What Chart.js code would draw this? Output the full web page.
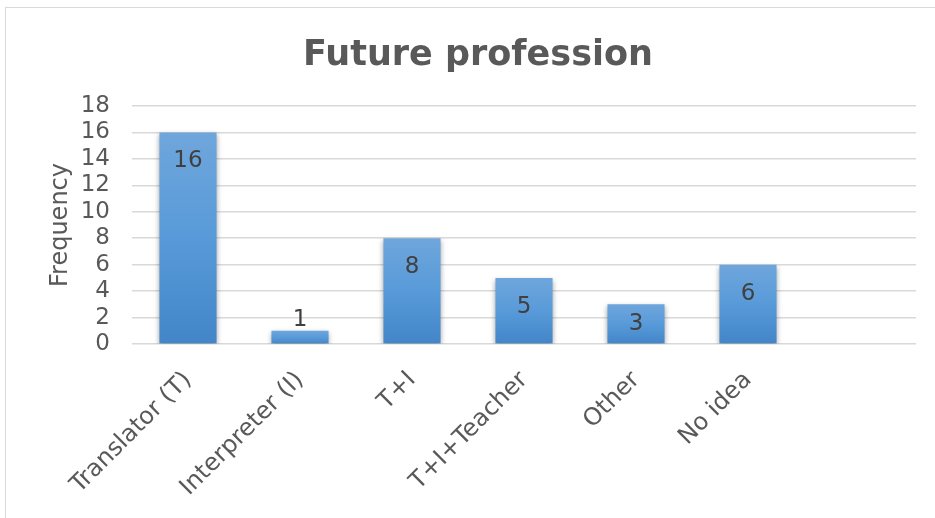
<!DOCTYPE html>
<html>
<head>
<meta charset="utf-8">
<script src="https://cdn.jsdelivr.net/npm/chart.js@4/dist/chart.umd.min.js"></script>
<style>
  html, body { margin: 0; padding: 0; background: #ffffff; }
  #wrap { width: 935px; height: 518px; position: relative; }
</style>
</head>
<body>
<div id="wrap"><canvas id="c" width="935" height="518"></canvas></div>
<script>
const chartTitle = "Future profession";
const yAxisTitle = "Frequency";
const categories = ["Translator (T)", "Interpreter (I)", "T+I", "T+I+Teacher", "Other", "No idea", ""];
const frequency = [16, 1, 8, 5, 3, 6, null];
const yTickStep = 2;

const FONT = "'DejaVu Sans', Verdana, sans-serif";
const TEXT = "#595959";

const framePlugin = {
  id: "frame",
  beforeDraw(chart) {
    const c = chart.ctx;
    c.save();
    c.fillStyle = "#ffffff";
    c.fillRect(0, 0, chart.width, chart.height);
    c.strokeStyle = "#d9d9d9";
    c.lineWidth = 1;
    c.strokeRect(5.5, 7.5, 960, 560);
    c.fillStyle = TEXT;
    c.font = "bold 35px " + FONT;
    c.textAlign = "center";
    c.textBaseline = "alphabetic";
    c.fillText(chartTitle, 478, 65);
    c.restore();
  }
};

const shadowPlugin = {
  id: "barShadow",
  beforeDatasetsDraw(chart) {
    const c = chart.ctx;
    c.save();
    c.shadowColor = "rgba(0,0,0,0.35)";
    c.shadowBlur = 5;
    c.shadowOffsetX = 0;
    c.shadowOffsetY = 2;
  },
  afterDatasetsDraw(chart) {
    chart.ctx.restore();
  }
};

const labelPlugin = {
  id: "valueLabels",
  afterDatasetsDraw(chart) {
    const c = chart.ctx;
    const meta = chart.getDatasetMeta(0);
    c.save();
    c.font = "23px " + FONT;
    c.fillStyle = "#404040";
    c.textAlign = "center";
    c.textBaseline = "middle";
    meta.data.forEach((bar, i) => {
      const v = frequency[i];
      if (v === null || v === undefined) return;
      const h = bar.base - bar.y;
      let y;
      if (h > 30) y = Math.min(bar.y + 29, bar.base - 19);
      else y = bar.y - 11;
      c.fillText(String(v), bar.x, y);
    });
    c.restore();
  }
};

function barGradient(ctx) {
  const chart = ctx.chart;
  if (!chart.chartArea || ctx.type !== "data") return "#5b9bd5";
  const ys = chart.scales.y;
  const v = ctx.raw;
  if (v === null || v === undefined) return "#5b9bd5";
  const top = ys.getPixelForValue(v);
  const bottom = ys.getPixelForValue(0);
  if (!isFinite(top) || !isFinite(bottom) || top === bottom) return "#5b9bd5";
  const g = chart.ctx.createLinearGradient(0, top, 0, bottom);
  g.addColorStop(0, "#6fa6dc");
  g.addColorStop(0.5, "#589ad9");
  g.addColorStop(1, "#4286c8");
  return g;
}

new Chart(document.getElementById("c"), {
  type: "bar",
  data: {
    labels: categories,
    datasets: [{
      data: frequency,
      backgroundColor: barGradient,
      borderWidth: 0,
      barPercentage: 0.51,
      categoryPercentage: 1.0
    }]
  },
  options: {
    responsive: false,
    animation: false,
    devicePixelRatio: 1,
    layout: { padding: { top: 106, left: 0, right: 19, bottom: 0 } },
    plugins: {
      legend: { display: false },
      title: { display: false },
      tooltip: { enabled: false }
    },
    scales: {
      x: {
        grid: { display: false, drawTicks: false },
        border: { display: false },
        ticks: {
          color: TEXT,
          font: { family: FONT, size: 24 },
          minRotation: 45,
          maxRotation: 45,
          padding: 22,
          autoSkip: false
        },
        afterFit(scale) { scale.height = 174; }
      },
      y: {
        min: 0,
        max: 18,
        grid: { color: "#d9d9d9", lineWidth: 1.5, drawTicks: false },
        border: { display: false },
        ticks: {
          stepSize: yTickStep,
          autoSkip: false,
          color: TEXT,
          font: { family: FONT, size: 23 },
          padding: 22
        },
        title: {
          display: true,
          text: yAxisTitle,
          color: TEXT,
          font: { family: FONT, size: 24 },
          padding: { top: 46, bottom: 0 }
        },
        afterFit(scale) { scale.width = 132; }
      }
    }
  },
  plugins: [framePlugin, shadowPlugin, labelPlugin]
});
</script>
</body>
</html>
